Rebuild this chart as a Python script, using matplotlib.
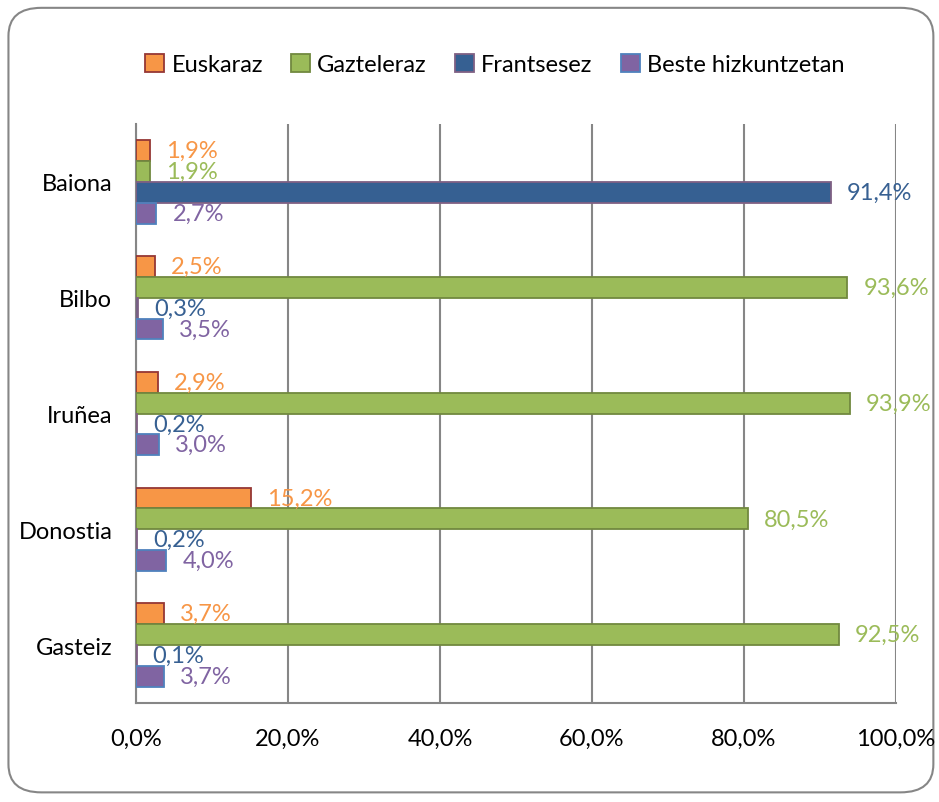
import matplotlib
matplotlib.use("Agg")
import matplotlib.pyplot as plt
from matplotlib.patches import FancyBboxPatch, Patch
import numpy as np

plt.rcParams['font.family'] = ['Lato', 'DejaVu Sans']

categories = ["Baiona", "Bilbo", "Iruñea", "Donostia", "Gasteiz"]
series_names = ["Euskaraz", "Gazteleraz", "Frantsesez", "Beste hizkuntzetan"]
euskaraz = [1.9, 2.5, 2.9, 15.2, 3.7]
gazteleraz = [1.9, 93.6, 93.9, 80.5, 92.5]
frantsesez = [91.4, 0.3, 0.2, 0.2, 0.1]
beste = [2.7, 3.5, 3.0, 4.0, 3.7]
xticks = [0, 20, 40, 60, 80, 100]

faces = ["#F79646", "#9BBB59", "#366092", "#8064A2"]
edges = ["#953735", "#71893F", "#7F6084", "#4F81BD"]
label_colors = ["#F79646", "#9BBB59", "#376092", "#8064A2"]

fig = plt.figure(figsize=(9.39, 8.03), dpi=100)
fig.patch.set_facecolor("white")
border = FancyBboxPatch((0.009, 0.012), 0.985, 0.977,
                        boxstyle="round,pad=0,rounding_size=0.035",
                        transform=fig.transFigure, facecolor="none",
                        edgecolor="#868686", linewidth=1.5, zorder=-5)
fig.patches.append(border)

ax = fig.add_axes([0.1448, 0.1233, 0.8094, 0.721])
ax.set_facecolor("none")

data = [euskaraz, gazteleraz, frantsesez, beste]
n = len(categories)
ypos = np.arange(n)
h = 0.18
for i, vals in enumerate(data):
    y = ypos + (i - 1.5) * h
    ax.barh(y, vals, height=h, color=faces[i], edgecolor=edges[i], linewidth=1.3,
            label=series_names[i], zorder=3)
    for yy, v in zip(y, vals):
        ax.annotate(f"{v:.1f}%".replace(".", ","), xy=(v, yy), xytext=(16, 0),
                    textcoords="offset pixels",
                    va="center", ha="left", fontsize=17, color=label_colors[i], zorder=4)

ax.set_xlim(0, 100)
ax.set_ylim(n - 0.5, -0.5)
ax.set_yticks(ypos)
ax.set_yticklabels(categories, fontsize=17)
ax.set_xticks(xticks)
ax.set_xticklabels([f"{t:.1f}%".replace(".", ",") for t in xticks], fontsize=17)
ax.tick_params(axis="both", length=0)
ax.tick_params(axis="x", pad=18)
ax.tick_params(axis="y", pad=17)
ax.grid(axis="x", color="#868686", linewidth=1.5, zorder=0)
for s in ["top", "right"]:
    ax.spines[s].set_visible(False)
for s in ["left", "bottom"]:
    ax.spines[s].set_color("#868686")
    ax.spines[s].set_linewidth(1.5)

handles = [Patch(facecolor=faces[i], edgecolor=edges[i], linewidth=1.3, label=series_names[i])
           for i in range(4)]
fig.legend(handles=handles, loc="center", bbox_to_anchor=(0.527, 0.918), ncol=4,
           frameon=False, fontsize=17, handlelength=0.8, handleheight=0.8,
           handletextpad=0.3, columnspacing=1.2)

fig.savefig("out.png", dpi=100)
